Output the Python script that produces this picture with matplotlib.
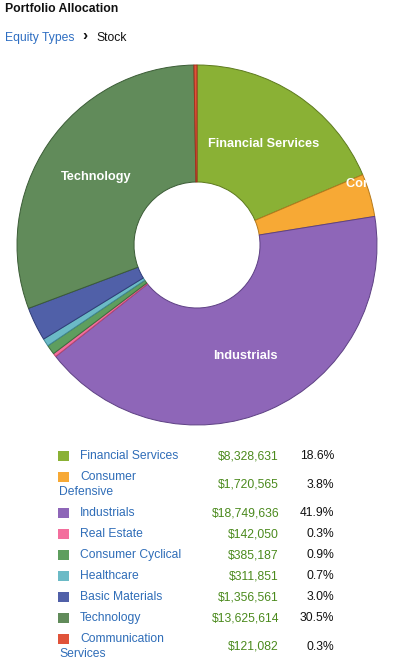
import numpy as np
import matplotlib.pyplot as plt
from matplotlib.patches import Circle, Rectangle

plt.rcParams['font.family'] = ['Liberation Sans', 'DejaVu Sans']

# === дані ===
sectors = ["Financial Services", "Consumer Defensive", "Industrials", "Real Estate",
           "Consumer Cyclical", "Healthcare", "Basic Materials", "Technology",
           "Communication Services"]
values = [8328631, 1720565, 18749636, 142050, 385187, 311851, 1356561, 13625614, 121082]
colors = ["#8ab135", "#f7a935", "#8e66b8", "#f36e9d", "#5e9e5e", "#6bbac6",
          "#5060a8", "#618b5a", "#e0533a"]
edges = ["#5d7a1e", "#b67a1c", "#5e4184", "#b8456f", "#3d6d3d", "#3f8793",
         "#2f3c78", "#3b5c36", "#a3311d"]
# підписи в легенді (з переносом, як у HTML)
legend_lines = [["Financial Services"], ["Consumer", "Defensive"], ["Industrials"],
                ["Real Estate"], ["Consumer Cyclical"], ["Healthcare"],
                ["Basic Materials"], ["Technology"], ["Communication", "Services"]]

W, H = 404, 671
FS = 8.7
BL = 4.3  # зсув базової лінії від центру великих літер, px
fig = plt.figure(figsize=(W / 100, H / 100), dpi=100)


def put(x, y, s, **kw):
    # y - центр рядка в пікселях від верху
    fig.text(x / W, 1 - (y + BL) / H, s, va='baseline', **kw)


# === заголовок ===
put(5, 8, "Portfolio Allocation", fontsize=8.8, fontweight='bold', ha='left', color='#111111')
put(5, 37, "Equity Types", fontsize=FS, color='#2e6ec2', ha='left')
put(82, 36, "\u203a", fontsize=11, fontweight='bold', color='#111111', ha='left')
put(96, 37, "Stock", fontsize=FS, color='#111111', ha='left')

# === кільцева діаграма ===
cx, cy, R = 197, 245, 180
ax = fig.add_axes([(cx - R) / W, 1 - (cy + R) / H, 2 * R / W, 2 * R / H])
wedges, _ = ax.pie(values, colors=colors, startangle=90, counterclock=False,
                   radius=1, wedgeprops=dict(width=0.65, linewidth=0.7))
for w, e in zip(wedges, edges):
    w.set_edgecolor(e)
ax.set_xlim(-1, 1)
ax.set_ylim(-1, 1)
ax.set_aspect('equal')
ax.axis('off')

clip = Circle((0, 0), 1, transform=ax.transData, facecolor='none', edgecolor='none')
ax.add_patch(clip)

total = sum(values)
start = 0.0
for name, v in zip(sectors, values):
    frac = v / total
    if frac >= 0.035:
        if frac >= 0.1:
            mid = 2 * np.pi * (start + frac / 2)
            r = 0.675
            t = ax.text(r * np.sin(mid), r * np.cos(mid), name, ha='center', va='center',
                        color='white', fontsize=9.2, fontweight='bold')
        else:
            a = 2 * np.pi * (start + 0.003)
            r = 0.91
            t = ax.text(r * np.sin(a) - 0.015, r * np.cos(a), name, ha='left', va='center',
                        color='white', fontsize=9.2, fontweight='bold')
        t.set_clip_path(clip)
    start += frac

# === легенда ===
y = 455
for lines, v, c in zip(legend_lines, values, colors):
    fig.patches.append(Rectangle((58 / W, 1 - (y + 5.5) / H), 11 / W, 10 / H,
                                 transform=fig.transFigure, facecolor=c, edgecolor='none'))
    put(80, y, lines[0], fontsize=FS, color='#2f6db8', ha='left')
    vy = y
    if len(lines) > 1:
        put(59, y + 15, lines[1], fontsize=FS, color='#2f6db8', ha='left')
        vy = y + 7.5
    put(279, vy, "${:,}".format(v), fontsize=FS, color='#4b8a1d', ha='right')
    put(334, vy, "{:.1f}%".format(100 * v / total), fontsize=FS, color='#111111', ha='right')
    y += 21 + 15 * (len(lines) - 1)

plt.savefig("out.png", dpi=100)
